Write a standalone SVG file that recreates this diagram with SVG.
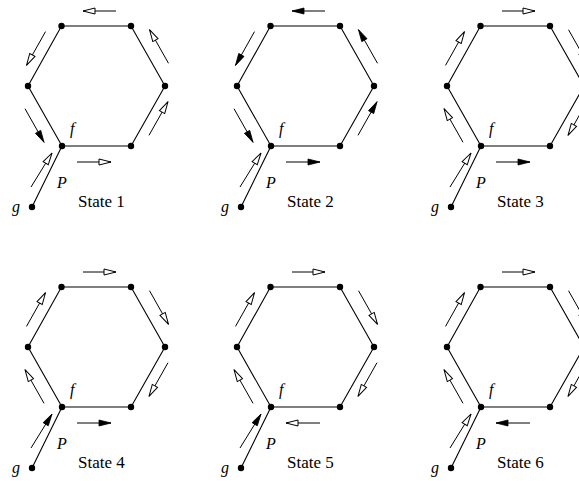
<svg xmlns="http://www.w3.org/2000/svg" width="579" height="481" viewBox="0 0 579 481">
<style>
.e{stroke:#000;stroke-width:1.1;fill:none}
.n{fill:#000}
.a{stroke:#000;stroke-width:1;fill:none}
.o{marker-end:url(#ho)}
.f{marker-end:url(#hf)}
.lab{font-family:"Liberation Serif","Times New Roman",serif;font-style:italic;font-size:16px;fill:#000}
.st{font-family:"Liberation Serif","Times New Roman",serif;font-size:17px;fill:#000}
</style>
<defs>
<marker id="ho" markerUnits="userSpaceOnUse" viewBox="-1 -4 14 8" refX="12" refY="0" markerWidth="14" markerHeight="8" orient="auto" overflow="visible">
<path d="M0,-3 L12,0 L0,3 Z" fill="#fff" stroke="#000" stroke-width="1"/>
</marker>
<marker id="hf" markerUnits="userSpaceOnUse" viewBox="-1 -4 14 8" refX="12" refY="0" markerWidth="14" markerHeight="8" orient="auto" overflow="visible">
<path d="M0,-3 L12,0 L0,3 Z" fill="#000" stroke="#000" stroke-width="0.8"/>
</marker>
</defs>
<rect width="579" height="481" fill="#fff"/>

<!-- State 1 -->
<g id="state1" transform="translate(0,0)">
<g class="edges"><path class="e" d="M61.5,26 L131,26 L165,86 L131,146 L62,146 L28,86 Z M62,146 L32,207"/></g>
<g class="nodes"><circle class="n" cx="61.5" cy="26" r="3.2"/><circle class="n" cx="131" cy="26" r="3.2"/><circle class="n" cx="165" cy="86" r="3.2"/><circle class="n" cx="131" cy="146" r="3.2"/><circle class="n" cx="62" cy="146" r="3.2"/><circle class="n" cx="28" cy="86" r="3.2"/><circle class="n" cx="32" cy="207" r="3.2"/></g>
<g class="arrows">
<path class="a o" d="M116,11 L83,11"/>
<path class="a o" d="M45.5,31.6 L26.5,65.4"/>
<path class="a o" d="M168.5,63.3 L149.5,29.7"/>
<path class="a o" d="M149,135.3 L168,101.7"/>
<path class="a f" d="M25,108.7 L44,142.3"/>
<path class="a o" d="M77,162 L111,162"/>
<path class="a o" d="M31,187 L52,153"/>
</g>
<text class="lab" x="70" y="134">f</text><text class="lab" x="57" y="188">P</text><text class="lab" x="12" y="212">g</text>
<text class="st" x="78" y="207">State 1</text>
</g>

<!-- State 2 -->
<g id="state2" transform="translate(209,0)">
<g class="edges"><path class="e" d="M61.5,26 L131,26 L165,86 L131,146 L62,146 L28,86 Z M62,146 L32,207"/></g>
<g class="nodes"><circle class="n" cx="61.5" cy="26" r="3.2"/><circle class="n" cx="131" cy="26" r="3.2"/><circle class="n" cx="165" cy="86" r="3.2"/><circle class="n" cx="131" cy="146" r="3.2"/><circle class="n" cx="62" cy="146" r="3.2"/><circle class="n" cx="28" cy="86" r="3.2"/><circle class="n" cx="32" cy="207" r="3.2"/></g>
<g class="arrows">
<path class="a f" d="M116,11 L83,11"/>
<path class="a f" d="M45.5,31.6 L26.5,65.4"/>
<path class="a f" d="M168.5,63.3 L149.5,29.7"/>
<path class="a f" d="M149,135.3 L168,101.7"/>
<path class="a f" d="M25,108.7 L44,142.3"/>
<path class="a f" d="M77,162 L111,162"/>
<path class="a o" d="M31,187 L52,153"/>
</g>
<text class="lab" x="70" y="134">f</text><text class="lab" x="57" y="188">P</text><text class="lab" x="12" y="212">g</text>
<text class="st" x="78" y="207">State 2</text>
</g>

<!-- State 3 -->
<g id="state3" transform="translate(419,0)">
<g class="edges"><path class="e" d="M61.5,26 L131,26 L165,86 L131,146 L62,146 L28,86 Z M62,146 L32,207"/></g>
<g class="nodes"><circle class="n" cx="61.5" cy="26" r="3.2"/><circle class="n" cx="131" cy="26" r="3.2"/><circle class="n" cx="165" cy="86" r="3.2"/><circle class="n" cx="131" cy="146" r="3.2"/><circle class="n" cx="62" cy="146" r="3.2"/><circle class="n" cx="28" cy="86" r="3.2"/><circle class="n" cx="32" cy="207" r="3.2"/></g>
<g class="arrows">
<path class="a o" d="M83,11 L116,11"/>
<path class="a o" d="M26.5,65.4 L45.5,31.6"/>
<path class="a o" d="M149.5,29.7 L168.5,63.3"/>
<path class="a o" d="M168,101.7 L149,135.3"/>
<path class="a o" d="M44,142.3 L25,108.7"/>
<path class="a f" d="M77,162 L111,162"/>
<path class="a o" d="M31,187 L52,153"/>
</g>
<text class="lab" x="70" y="134">f</text><text class="lab" x="57" y="188">P</text><text class="lab" x="12" y="212">g</text>
<text class="st" x="78" y="207">State 3</text>
</g>

<!-- State 4 -->
<g id="state4" transform="translate(0,261)">
<g class="edges"><path class="e" d="M61.5,26 L131,26 L165,86 L131,146 L62,146 L28,86 Z M62,146 L32,207"/></g>
<g class="nodes"><circle class="n" cx="61.5" cy="26" r="3.2"/><circle class="n" cx="131" cy="26" r="3.2"/><circle class="n" cx="165" cy="86" r="3.2"/><circle class="n" cx="131" cy="146" r="3.2"/><circle class="n" cx="62" cy="146" r="3.2"/><circle class="n" cx="28" cy="86" r="3.2"/><circle class="n" cx="32" cy="207" r="3.2"/></g>
<g class="arrows">
<path class="a o" d="M83,11 L116,11"/>
<path class="a o" d="M26.5,65.4 L45.5,31.6"/>
<path class="a o" d="M149.5,29.7 L168.5,63.3"/>
<path class="a o" d="M168,101.7 L149,135.3"/>
<path class="a o" d="M44,142.3 L25,108.7"/>
<path class="a f" d="M77,162 L111,162"/>
<path class="a f" d="M31,187 L52,153"/>
</g>
<text class="lab" x="70" y="134">f</text><text class="lab" x="57" y="188">P</text><text class="lab" x="12" y="212">g</text>
<text class="st" x="78" y="207">State 4</text>
</g>

<!-- State 5 -->
<g id="state5" transform="translate(209,261)">
<g class="edges"><path class="e" d="M61.5,26 L131,26 L165,86 L131,146 L62,146 L28,86 Z M62,146 L32,207"/></g>
<g class="nodes"><circle class="n" cx="61.5" cy="26" r="3.2"/><circle class="n" cx="131" cy="26" r="3.2"/><circle class="n" cx="165" cy="86" r="3.2"/><circle class="n" cx="131" cy="146" r="3.2"/><circle class="n" cx="62" cy="146" r="3.2"/><circle class="n" cx="28" cy="86" r="3.2"/><circle class="n" cx="32" cy="207" r="3.2"/></g>
<g class="arrows">
<path class="a o" d="M83,11 L116,11"/>
<path class="a o" d="M26.5,65.4 L45.5,31.6"/>
<path class="a o" d="M149.5,29.7 L168.5,63.3"/>
<path class="a o" d="M168,101.7 L149,135.3"/>
<path class="a o" d="M44,142.3 L25,108.7"/>
<path class="a o" d="M111,162 L77,162"/>
<path class="a f" d="M31,187 L52,153"/>
</g>
<text class="lab" x="70" y="134">f</text><text class="lab" x="57" y="188">P</text><text class="lab" x="12" y="212">g</text>
<text class="st" x="78" y="207">State 5</text>
</g>

<!-- State 6 -->
<g id="state6" transform="translate(419,261)">
<g class="edges"><path class="e" d="M61.5,26 L131,26 L165,86 L131,146 L62,146 L28,86 Z M62,146 L32,207"/></g>
<g class="nodes"><circle class="n" cx="61.5" cy="26" r="3.2"/><circle class="n" cx="131" cy="26" r="3.2"/><circle class="n" cx="165" cy="86" r="3.2"/><circle class="n" cx="131" cy="146" r="3.2"/><circle class="n" cx="62" cy="146" r="3.2"/><circle class="n" cx="28" cy="86" r="3.2"/><circle class="n" cx="32" cy="207" r="3.2"/></g>
<g class="arrows">
<path class="a o" d="M83,11 L116,11"/>
<path class="a o" d="M26.5,65.4 L45.5,31.6"/>
<path class="a o" d="M149.5,29.7 L168.5,63.3"/>
<path class="a o" d="M168,101.7 L149,135.3"/>
<path class="a o" d="M44,142.3 L25,108.7"/>
<path class="a f" d="M111,162 L77,162"/>
<path class="a o" d="M31,187 L52,153"/>
</g>
<text class="lab" x="70" y="134">f</text><text class="lab" x="57" y="188">P</text><text class="lab" x="12" y="212">g</text>
<text class="st" x="78" y="207">State 6</text>
</g>
</svg>
